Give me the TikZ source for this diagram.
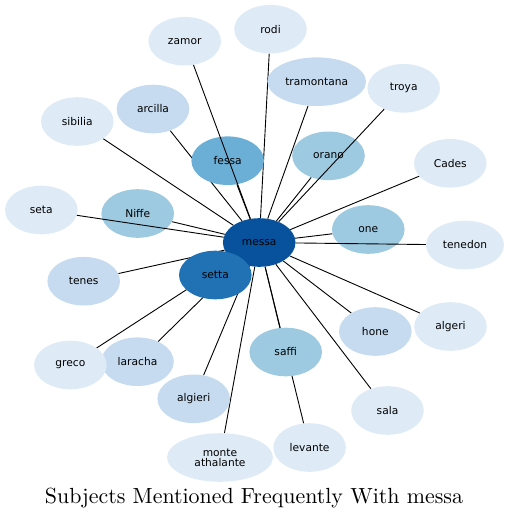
\documentclass[tikz,border=0pt]{standalone}
\usepackage{fontspec}
\newfontfamily\nodefont{DejaVu Sans}
\newfontfamily\titlefont{lmroman10-regular}[Extension=.otf]
\usetikzlibrary{shapes.geometric,backgrounds}
\definecolor{c1}{HTML}{DEEBF7}
\definecolor{c2}{HTML}{C6DBEF}
\definecolor{c3}{HTML}{9ECAE1}
\definecolor{c4}{HTML}{6BAED6}
\definecolor{c5}{HTML}{2171B5}
\definecolor{c6}{HTML}{08519C}
\tikzset{
  bub/.style={ellipse, inner sep=0pt, minimum width=72.6pt, minimum height=48.6pt,
    font=\nodefont\fontsize{10.67}{12}\selectfont, text=black, align=center},
  wide/.style={minimum width=98.6pt},
  wider/.style={minimum width=106pt},
  edge/.style={draw=black, line width=0.9pt},
}
\begin{document}
\begin{tikzpicture}[x=1pt,y=-1pt]
\useasboundingbox (0,0) rectangle (509,519);
\node[bub, fill=c6] (messa) at (259.2,242.5) {messa};
\node[bub, fill=c5] (setta) at (215.3,275) {setta};
\node[bub, fill=c4] (fessa) at (227.7,160.7) {fessa};
\node[bub, fill=c3] (orano) at (328.5,155.8) {orano};
\node[bub, fill=c3] (one) at (368.3,229.5) {one};
\node[bub, fill=c3] (Niffe) at (137.7,213.5) {Niffe};
\node[bub, fill=c3] (saffi) at (285.7,352) {saffi};
\node[bub, wide, fill=c2] (tramontana) at (316.7,81.7) {tramontana};
\node[bub, fill=c2] (arcilla) at (153,109) {arcilla};
\node[bub, fill=c2] (tenes) at (83.7,281.2) {tenes};
\node[bub, fill=c2] (laracha) at (137.5,361.7) {laracha};
\node[bub, fill=c2] (algieri) at (193.7,398.8) {algieri};
\node[bub, fill=c2] (hone) at (375.3,331.5) {hone};
\node[bub, fill=c1] (zamor) at (184.7,41.2) {zamor};
\node[bub, fill=c1] (rodi) at (270.5,29.2) {rodi};
\node[bub, fill=c1] (troya) at (403.7,88.3) {troya};
\node[bub, fill=c1] (sibilia) at (77.3,121.5) {sibilia};
\node[bub, fill=c1] (Cades) at (450.3,163.3) {Cades};
\node[bub, fill=c1] (seta) at (41.3,210) {seta};
\node[bub, fill=c1, minimum width=78pt] (tenedon) at (465,245) {tenedon};
\node[bub, fill=c1] (algeri) at (450.5,326.5) {algeri};
\node[bub, fill=c1] (greco) at (70.4,365) {greco};
\node[bub, fill=c1] (sala) at (387.5,410.5) {sala};
\node[bub, fill=c1] (levante) at (309.6,447.5) {levante};
\node[bub, wider, fill=c1] (monte) at (220,457.5) {monte\\[-2pt]athalante};
\begin{pgfonlayer}{background}
\foreach \t in {setta,fessa,orano,one,Niffe,saffi,tramontana,arcilla,tenes,laracha,algieri,hone,rodi,sibilia,Cades,algeri,greco,sala,levante,monte}
  \draw[edge] (messa) -- (\t);
\end{pgfonlayer}
\foreach \t in {zamor,seta,troya,tenedon}
  \draw[edge] (messa) -- (\t);
\node[font=\titlefont\fontsize{21.9}{26}\selectfont, anchor=base] (title) at (254,503) {Subjects Mentioned Frequently With messa};
\end{tikzpicture}
\end{document}
